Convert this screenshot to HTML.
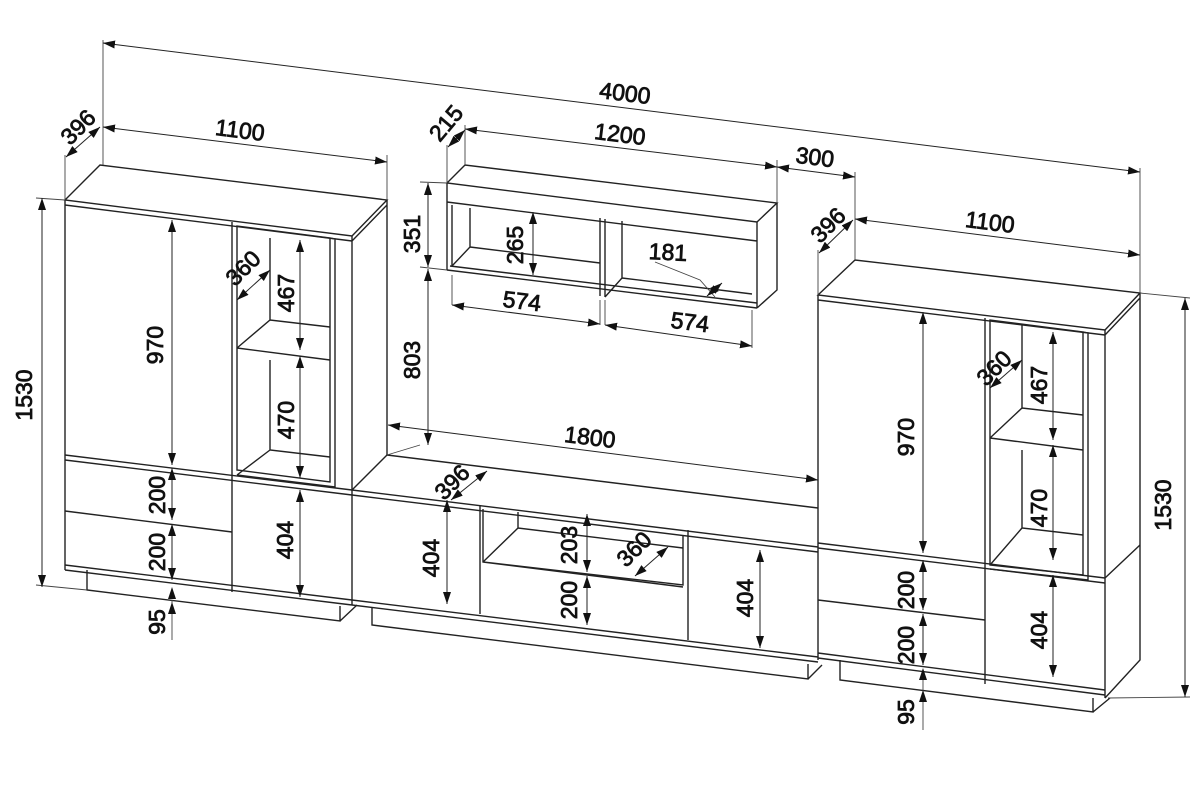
<!DOCTYPE html>
<html><head><meta charset="utf-8">
<style>
html,body{margin:0;padding:0;background:#fff;}
svg{display:block}
text{font-family:"Liberation Sans",Arial,sans-serif;font-size:23px;fill:#111;stroke:#111;stroke-width:0.8;text-anchor:middle;dominant-baseline:central}
.l{stroke:#222;stroke-width:1.4;fill:none}
.d{stroke:#222;stroke-width:1;fill:none;marker-start:url(#a);marker-end:url(#a)}
.e{stroke:#444;stroke-width:0.9;fill:none}
</style></head><body>
<svg width="1200" height="790" viewBox="0 0 1200 790" xmlns="http://www.w3.org/2000/svg">
<defs>
<marker id="a" viewBox="0 0 12 8" refX="12" refY="4" markerWidth="12" markerHeight="8" markerUnits="userSpaceOnUse" orient="auto-start-reverse">
<path d="M12,4 L0,0 L0,8 Z" fill="#111"/>
</marker>
</defs>

<!-- ============ LEFT CABINET ============ -->
<g class="l">
<path d="M65,200 L100,165 L387,200 L352,236 Z"/>
<path d="M65,200 L65,570 M65,205 L352,241"/>
<path d="M352,236 L352,605 M387,200 L387,205 L352,241 M387,205 L387,455"/>
<path d="M65,455 L352,490 M65,460 L352,495"/>
<path d="M65,565 L352,600 M65,570 L352,605"/>
<path d="M65,511 L232,532"/>
<path d="M232,222 L232,592"/>
<path d="M237,226 L237,470 L330,482 L330,238 Z"/>
<path d="M330,238 L335,239 L335,487 L237,475"/>
<path d="M270,238 L270,320 M237,348 L270,320 L330,327 M237,348 L330,360"/>
<path d="M270,360 L270,450 L330,457 M237,475 L270,450"/>
<path d="M87,570 L87,590 L340,621 L340,606 M340,621 L357,605"/>
</g>

<!-- ============ TV UNIT ============ -->
<g class="l">
<path d="M387,455 L818,508"/>
<path d="M352,490 L387,455"/>
<path d="M352,490 L818,547 M352,495 L818,552"/>
<path d="M352,600 L818,657 M352,605 L818,662"/>
<path d="M480,505 L480,614"/>
<path d="M688,530 L688,640"/>
<path d="M483,509 L483,562 L683,585 L683,535 M483,562 L683,587"/>
<path d="M483,562 L518,528 L683,548 M518,528 L518,512"/>
<path d="M372,608 L372,625 L808,679 L808,664 M808,679 L822,665"/>
</g>

<!-- ============ WALL SHELF ============ -->
<g class="l">
<path d="M447,183 L465,165 L777,203 L757,222 Z"/>
<path d="M447,183 L447,270 M447,202 L757,241 M757,222 L757,308 M777,203 L777,290 L757,308"/>
<path d="M447,270 L757,308 M450,266 L757,303"/>
<path d="M452,205 L452,266"/>
<path d="M470,208 L470,247 L452,266 M470,247 L600,263"/>
<path d="M600,218 L600,296 M605,219 L605,297"/>
<path d="M622,221 L622,278 L605,297 M622,278 L752,294"/>
</g>

<!-- ============ RIGHT CABINET ============ -->
<g class="l">
<path d="M818,295 L855,260 L1140,293 L1105,330 Z"/>
<path d="M818,295 L818,660 M818,300 L1105,335"/>
<path d="M1105,330 L1105,698 M1140,293 L1140,298 L1105,335 M1140,298 L1140,660 L1105,698"/>
<path d="M818,543 L1105,578 M818,548 L1105,583 M1105,578 L1140,545"/>
<path d="M818,653 L1105,690 M818,658 L1105,695"/>
<path d="M818,600 L985,620"/>
<path d="M985,318 L985,684"/>
<path d="M990,320 L990,565 L1083,575 L1083,332 Z"/>
<path d="M1083,332 L1088,333 L1088,580 L990,569"/>
<path d="M1022,325 L1022,408 M990,438 L1022,408 L1083,415 M990,438 L1083,450"/>
<path d="M1022,450 L1022,528 L1083,535 M990,565 L1022,528"/>
<path d="M840,660 L840,680 L1093,712 L1093,698 M1093,712 L1110,698"/>
</g>

<!-- ============ EXTENSION LINES ============ -->
<g class="e">
<path d="M103,40 L103,165"/>
<path d="M65,155 L65,200"/>
<path d="M387,155 L387,200"/>
<path d="M1140,168 L1140,293"/>
<path d="M447,145 L447,183 M465,125 L465,165"/>
<path d="M777,160 L777,203"/>
<path d="M855,172 L855,260 M818,250 L818,295"/>
<path d="M36,198 L65,200 M36,585 L87,590"/>
<path d="M1140,293 L1190,298 M1108,698 L1190,697"/>
<path d="M420,182 L447,183 M420,267 L447,270 M420,445 L387,455"/>
<path d="M452,275 L452,305 M600,300 L600,325 M605,300 L605,325 M752,310 L752,348"/>
<path d="M655,262 L700,280 L715,297"/>
</g>

<!-- ============ DIMENSION LINES ============ -->
<g class="d">
<path d="M103,43 L1140,172"/>
<path d="M66,157 L100,127"/>
<path d="M103,127 L387,162"/>
<path d="M448,147 L465,130"/>
<path d="M465,129 L777,167"/>
<path d="M777,167 L855,177"/>
<path d="M819,253 L853,220"/>
<path d="M855,219 L1140,255"/>
<path d="M42,198 L42,587"/>
<path d="M1185,298 L1185,697"/>
<path d="M428,183 L428,267"/>
<path d="M428,269 L428,445"/>
<path d="M388,425 L818,480"/>
<path d="M533,212 L533,275"/>
<path d="M452,305 L600,324"/>
<path d="M605,325 L752,346"/>
<path d="M707,296 L722,283"/>
<path d="M172,220 L172,465"/>
<path d="M237,300 L270,270"/>
<path d="M300,240 L300,350"/>
<path d="M300,356 L300,478"/>
<path d="M172,468 L172,520"/>
<path d="M172,524 L172,580"/>
<path d="M300,490 L300,597"/>
<path d="M447,500 L447,604"/>
<path d="M451,500 L487,471"/>
<path d="M587,514 L587,572"/>
<path d="M587,576 L587,625"/>
<path d="M635,576 L668,547"/>
<path d="M760,550 L760,648"/>
<path d="M923,312 L923,553"/>
<path d="M990,388 L1022,360"/>
<path d="M1053,332 L1053,440"/>
<path d="M1053,445 L1053,560"/>
<path d="M923,560 L923,610"/>
<path d="M923,614 L923,665"/>
<path d="M1053,575 L1053,677"/>
</g>
<g class="e">
<path d="M172,600 L172,640"/>
<path d="M923,678 L923,730"/>
</g>
<path d="M172,587 L168,599 L176,599 Z M172,602 L168,614 L176,614 Z" fill="#111"/>
<path d="M923,668 L919,680 L927,680 Z M923,690 L919,702 L927,702 Z" fill="#111"/>

<!-- ============ LABELS ============ -->
<text x="625" y="93" transform="rotate(7 625 93)">4000</text>
<text x="78" y="127" transform="rotate(-45 78 127)">396</text>
<text x="240" y="130" transform="rotate(7 240 130)">1100</text>
<text x="446" y="123" transform="rotate(-50 446 123)">215</text>
<text x="620" y="134" transform="rotate(7 620 134)">1200</text>
<text x="815" y="157" transform="rotate(7 815 157)">300</text>
<text x="828" y="225" transform="rotate(-45 828 225)">396</text>
<text x="990" y="222" transform="rotate(7 990 222)">1100</text>
<text x="24" y="395" transform="rotate(-90 24 395)">1530</text>
<text x="1163" y="505" transform="rotate(-90 1163 505)">1530</text>
<text x="412" y="234" transform="rotate(-90 412 234)">351</text>
<text x="412" y="360" transform="rotate(-90 412 360)">803</text>
<text x="590" y="437" transform="rotate(7 590 437)">1800</text>
<text x="515" y="245" transform="rotate(-90 515 245)">265</text>
<text x="668" y="252" transform="rotate(3 668 252)">181</text>
<text x="522" y="301" transform="rotate(7 522 301)">574</text>
<text x="690" y="322" transform="rotate(7 690 322)">574</text>
<text x="155" y="345" transform="rotate(-90 155 345)">970</text>
<text x="243" y="268" transform="rotate(-45 243 268)">360</text>
<text x="286" y="293" transform="rotate(-90 286 293)">467</text>
<text x="286" y="420" transform="rotate(-90 286 420)">470</text>
<text x="157" y="495" transform="rotate(-90 157 495)">200</text>
<text x="157" y="552" transform="rotate(-90 157 552)">200</text>
<text x="157" y="622" transform="rotate(-90 157 622)">95</text>
<text x="285" y="540" transform="rotate(-90 285 540)">404</text>
<text x="452" y="482" transform="rotate(-45 452 482)">396</text>
<text x="431" y="558" transform="rotate(-90 431 558)">404</text>
<text x="569" y="545" transform="rotate(-90 569 545)">203</text>
<text x="634" y="549" transform="rotate(-45 634 549)">360</text>
<text x="569" y="600" transform="rotate(-90 569 600)">200</text>
<text x="745" y="598" transform="rotate(-90 745 598)">404</text>
<text x="906" y="437" transform="rotate(-90 906 437)">970</text>
<text x="994" y="368" transform="rotate(-45 994 368)">360</text>
<text x="1039" y="385" transform="rotate(-90 1039 385)">467</text>
<text x="1039" y="508" transform="rotate(-90 1039 508)">470</text>
<text x="906" y="590" transform="rotate(-90 906 590)">200</text>
<text x="906" y="645" transform="rotate(-90 906 645)">200</text>
<text x="906" y="712" transform="rotate(-90 906 712)">95</text>
<text x="1039" y="630" transform="rotate(-90 1039 630)">404</text>
</svg>
</body></html>
